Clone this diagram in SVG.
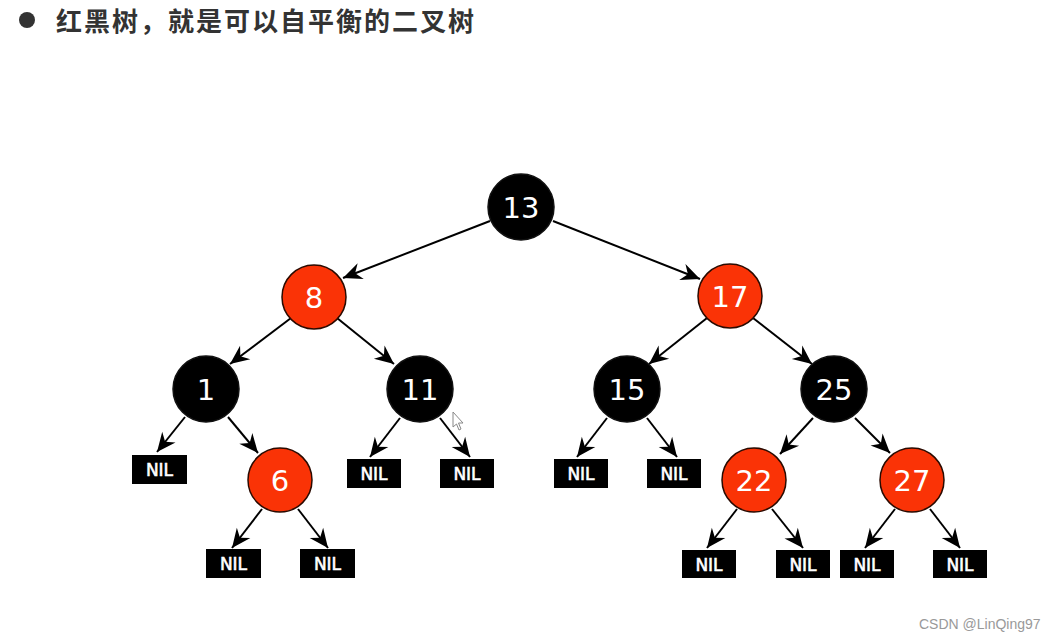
<svg xmlns="http://www.w3.org/2000/svg" width="1056" height="640" viewBox="0 0 1056 640">
<style>
.title{font-family:"Noto Sans CJK SC","Noto Sans",sans-serif;font-weight:bold;font-size:26px;fill:#333;letter-spacing:2px}
.blk{fill:#000;stroke:#111;stroke-width:1.5}
.red{fill:#fa3306;stroke:#2a0a00;stroke-width:1.5}
.num{font-family:"DejaVu Sans",sans-serif;font-size:29px;fill:#fff;text-anchor:middle}
.nilbox{fill:#000}
.nil{font-family:"DejaVu Sans",sans-serif;font-size:17px;fill:#fff;stroke:#fff;stroke-width:0.6;text-anchor:middle}
.edge{stroke:#000;stroke-width:2;fill:none;marker-end:url(#arr)}
.wm{font-family:"Liberation Sans",Arial,sans-serif;font-size:14px;fill:#999}
</style>
<defs>
<marker id="arr" markerUnits="userSpaceOnUse" viewBox="-20 -10 21 20" refX="0" refY="0" markerWidth="21" markerHeight="20" orient="auto">
<path d="M0,0 L-19,-8.5 L-13,0 L-19,8.5 Z" fill="#000"/>
</marker>
</defs>
<rect width="1056" height="640" fill="#fff"/>
<g id="title">
<circle cx="27" cy="20" r="8" fill="#333"/>
<text class="title" x="56" y="31">红黑树，就是可以自平衡的二叉树</text>
</g>
<g id="connectors">
<line class="edge" x1="490" y1="221" x2="343" y2="278"/>
<line class="edge" x1="553" y1="221" x2="700" y2="279"/>
<line class="edge" x1="291" y1="318" x2="230" y2="364"/>
<line class="edge" x1="337" y1="318" x2="394" y2="364"/>
<line class="edge" x1="707" y1="318" x2="649" y2="364"/>
<line class="edge" x1="753" y1="318" x2="812" y2="364"/>
<line class="edge" x1="185" y1="417" x2="157" y2="452"/>
<line class="edge" x1="228" y1="417" x2="258" y2="453"/>
<line class="edge" x1="262" y1="509" x2="232" y2="548"/>
<line class="edge" x1="298" y1="509" x2="328" y2="548"/>
<line class="edge" x1="400" y1="418" x2="370" y2="457"/>
<line class="edge" x1="440" y1="418" x2="470" y2="457"/>
<line class="edge" x1="607" y1="418" x2="577" y2="457"/>
<line class="edge" x1="647" y1="418" x2="677" y2="457"/>
<line class="edge" x1="813" y1="418" x2="780" y2="454"/>
<line class="edge" x1="855" y1="418" x2="890" y2="453"/>
<line class="edge" x1="737" y1="509" x2="707" y2="548"/>
<line class="edge" x1="772" y1="509" x2="803" y2="548"/>
<line class="edge" x1="895" y1="509" x2="865" y2="548"/>
<line class="edge" x1="930" y1="509" x2="960" y2="548"/>
</g>
<g id="n13"><circle class="blk" cx="521" cy="207" r="33"/><text class="num" x="521" y="218">13</text></g>
<g id="n8"><circle class="red" cx="314" cy="297" r="32"/><text class="num" x="314" y="308">8</text></g>
<g id="n17"><circle class="red" cx="730" cy="296" r="32"/><text class="num" x="730" y="307">17</text></g>
<g id="n1"><circle class="blk" cx="206" cy="389" r="33"/><text class="num" x="206" y="400">1</text></g>
<g id="n11"><circle class="blk" cx="420" cy="389" r="33"/><text class="num" x="420" y="400">11</text></g>
<g id="n15"><circle class="blk" cx="627" cy="389" r="33"/><text class="num" x="627" y="400">15</text></g>
<g id="n25"><circle class="blk" cx="834" cy="389" r="33"/><text class="num" x="834" y="400">25</text></g>
<g id="n6"><circle class="red" cx="280" cy="480" r="32"/><text class="num" x="280" y="491">6</text></g>
<g id="n22"><circle class="red" cx="754" cy="480" r="32"/><text class="num" x="754" y="491">22</text></g>
<g id="n27"><circle class="red" cx="912" cy="480" r="32"/><text class="num" x="912" y="491">27</text></g>
<g id="nil1"><rect class="nilbox" x="132" y="455" width="55" height="29"/><text class="nil" x="159.5" y="476">NIL</text></g>
<g id="nil2"><rect class="nilbox" x="347" y="459" width="54" height="29"/><text class="nil" x="374" y="480">NIL</text></g>
<g id="nil3"><rect class="nilbox" x="440" y="459" width="54" height="29"/><text class="nil" x="467" y="480">NIL</text></g>
<g id="nil4"><rect class="nilbox" x="554" y="459" width="54" height="29"/><text class="nil" x="581" y="480">NIL</text></g>
<g id="nil5"><rect class="nilbox" x="647" y="459" width="54" height="29"/><text class="nil" x="674" y="480">NIL</text></g>
<g id="nil6"><rect class="nilbox" x="206" y="549" width="55" height="29"/><text class="nil" x="233.5" y="570">NIL</text></g>
<g id="nil7"><rect class="nilbox" x="300" y="549" width="55" height="29"/><text class="nil" x="327.5" y="570">NIL</text></g>
<g id="nil8"><rect class="nilbox" x="682" y="550" width="54" height="28"/><text class="nil" x="709" y="570.5">NIL</text></g>
<g id="nil9"><rect class="nilbox" x="776" y="550" width="54" height="28"/><text class="nil" x="803" y="570.5">NIL</text></g>
<g id="nil10"><rect class="nilbox" x="840" y="550" width="54" height="28"/><text class="nil" x="867" y="570.5">NIL</text></g>
<g id="nil11"><rect class="nilbox" x="933" y="550" width="54" height="28"/><text class="nil" x="960" y="570.5">NIL</text></g>
<g id="cursor"><path d="M453,412 L453,427 L456.5,424 L459,430 L461,429 L458.5,423 L463,423 Z" fill="#fff" stroke="#888" stroke-width="1"/></g>
<text class="wm" x="919" y="629">CSDN @LinQing97</text>
</svg>
